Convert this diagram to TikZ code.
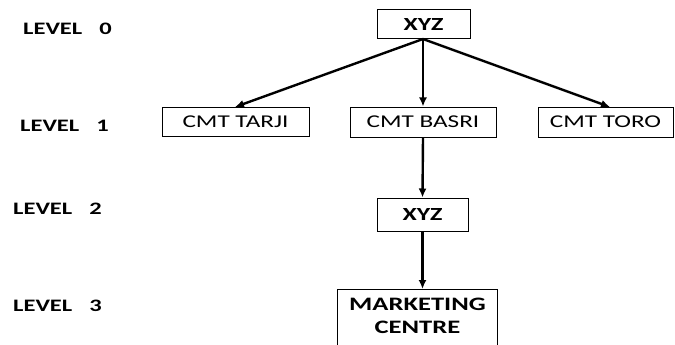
\documentclass[tikz,border=0pt]{standalone}
\usepackage{fontspec}
\setmainfont[FakeStretch=1.4]{Carlito}
\usetikzlibrary{arrows.meta}
\begin{document}
\begin{tikzpicture}[x=1pt,y=-1pt,
  box/.style={draw=black,line width=1pt,inner sep=0pt,font=\fontsize{18}{20}\selectfont},
  bbox/.style={box,font=\fontsize{18.5}{20}\selectfont\bfseries},
  lvl/.style={anchor=west,inner sep=0pt,font=\fontsize{17.5}{19}\selectfont\bfseries},
  conn/.style={line width=2.4pt,-{Latex[length=9pt,width=8pt]}}]
\useasboundingbox (0,0) rectangle (675,345);
\clip (0,0) rectangle (675,345);
\node[bbox,minimum width=93pt,minimum height=29pt] (top) at (423.5,24.5) {XYZ};
\node[box,minimum width=147pt,minimum height=29pt] (tarji) at (235.5,121.5) {CMT TARJI};
\node[box,minimum width=146pt,minimum height=30pt] (basri) at (423,122) {CMT BASRI};
\node[box,minimum width=135pt,minimum height=30pt] (toro) at (605.5,122) {CMT TORO};
\node[bbox,minimum width=91pt,minimum height=33pt] (xyz) at (422.5,214.5) {XYZ};
\node[box,minimum width=160pt,minimum height=90pt,anchor=north] (mc) at (417.5,289) {};
\node[inner sep=0pt,align=center,font=\fontsize{19}{23}\selectfont\bfseries] (mct) at (417.5,316) {MARKETING\\CENTRE};
\node[lvl] (l0) at (23,29) {LEVEL\hspace{17pt}0};
\node[lvl] (l1) at (20,126) {LEVEL\hspace{17pt}1};
\node[lvl] (l2) at (13,209) {LEVEL\hspace{17pt}2};
\node[lvl] (l3) at (13,306) {LEVEL\hspace{17pt}3};
\coordinate (s) at (423,39);
\coordinate (t1) at (235,107);
\coordinate (t3) at (610,107);
\draw[conn] (s) -- (t1);
\draw[conn] (s) -- (basri.north);
\draw[conn] (s) -- (t3);
\draw[conn] (basri.south) -- (xyz.north);
\draw[conn] (xyz.south) -- (xyz.south |- mc.north);
\end{tikzpicture}
\end{document}
